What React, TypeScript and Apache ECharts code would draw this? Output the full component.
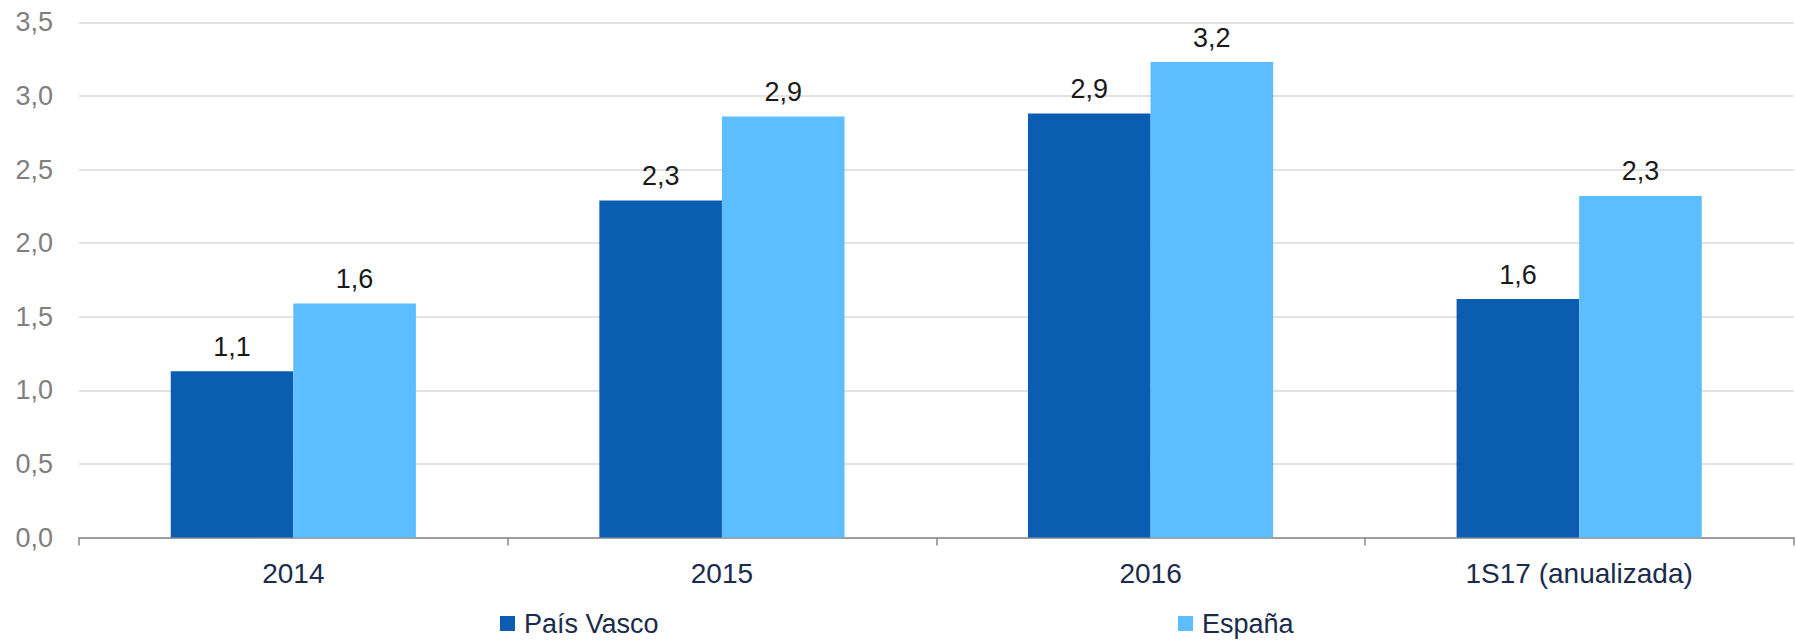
import React, { useEffect, useRef } from "react";
import * as echarts from "echarts";

const categories = ["2014", "2015", "2016", "1S17 (anualizada)"];
const paisVasco = [1.13, 2.29, 2.88, 1.62];
const espana = [1.59, 2.86, 3.23, 2.32];
const seriesNames = ["País Vasco", "España"];

const fmt = (v: number) => v.toFixed(1).replace(".", ",");

export default function App() {
  const ref = useRef<HTMLDivElement>(null);
  useEffect(() => {
    if (!ref.current) return;
    const chart = echarts.init(ref.current, undefined, { renderer: "svg" });
    const font = "'Liberation Sans', Arial, sans-serif";
    const legendText = { fontSize: 27, color: "#1a2b4c", fontFamily: font, padding: [0, 0, 0, 4] };
    chart.setOption({
      animation: false,
      textStyle: { fontFamily: font },
      grid: { left: 79, right: 2.5, top: 22.3, bottom: 640 - 537.5, containLabel: false },
      legend: [
        {
          data: [seriesNames[0]],
          left: 500,
          top: 610,
          padding: 0,
          itemWidth: 15,
          itemHeight: 15,
          icon: "rect",
          textStyle: legendText,
        },
        {
          data: [seriesNames[1]],
          left: 1178,
          top: 610,
          padding: 0,
          itemWidth: 15,
          itemHeight: 15,
          icon: "rect",
          textStyle: legendText,
        },
      ],
      xAxis: {
        type: "category",
        data: categories,
        axisLine: { lineStyle: { color: "#888888", width: 1.5 } },
        axisTick: { show: true, length: 8, lineStyle: { color: "#888888", width: 1.5 } },
        axisLabel: { fontSize: 28, color: "#1a2b4c", margin: 22, fontFamily: font },
      },
      yAxis: {
        type: "value",
        min: 0,
        max: 3.5,
        interval: 0.5,
        axisLine: { show: false },
        axisTick: { show: false },
        splitLine: { lineStyle: { color: "#d9d9d9", width: 1.5 } },
        axisLabel: {
          fontSize: 27,
          color: "#7f7f7f",
          margin: 26,
          fontFamily: font,
          formatter: (v: number) => fmt(v),
        },
      },
      series: [
        {
          name: seriesNames[0],
          type: "bar",
          data: paisVasco,
          barWidth: "28.6%",
          barGap: "0%",
          itemStyle: { color: "#0b5db2" },
          label: {
            show: true,
            position: "top",
            distance: 11,
            fontSize: 27,
            color: "#1a1a1a",
            fontFamily: font,
            formatter: (p: any) => fmt(p.value),
          },
        },
        {
          name: seriesNames[1],
          type: "bar",
          data: espana,
          barWidth: "28.6%",
          barGap: "0%",
          itemStyle: { color: "#5cbeff" },
          label: {
            show: true,
            position: "top",
            distance: 11,
            fontSize: 27,
            color: "#1a1a1a",
            fontFamily: font,
            formatter: (p: any) => fmt(p.value),
          },
        },
      ],
    });
    return () => chart.dispose();
  }, []);
  return (
    <div
      ref={ref}
      style={{ position: "fixed", left: 0, top: 0, width: 1796, height: 640, background: "#ffffff" }}
    />
  );
}
